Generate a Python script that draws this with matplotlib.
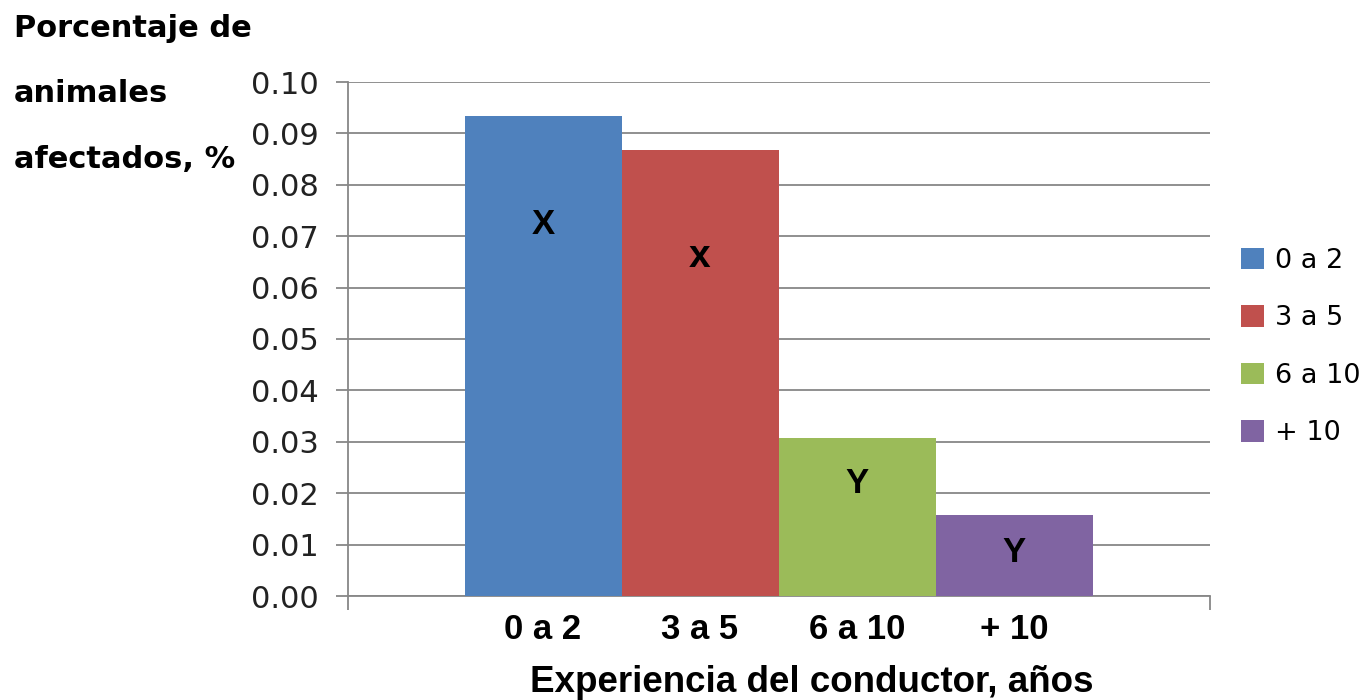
import matplotlib
matplotlib.use("Agg")
import matplotlib.pyplot as plt

# datos
categorias = ["0 a 2", "3 a 5", "6 a 10", "+ 10"]
porcentaje = [0.0934, 0.0868, 0.0307, 0.0157]
letras = ["X", "x", "Y", "Y"]
colores = ["#4F81BD", "#C0504D", "#9BBB59", "#8064A2"]
yticks = [0.00, 0.01, 0.02, 0.03, 0.04, 0.05, 0.06, 0.07, 0.08, 0.09, 0.10]

# posicion vertical de las letras dentro de las barras
letras_y = [0.0722, 0.0660, 0.0218, 0.0084]

fig = plt.figure(figsize=(13.68, 7), dpi=100)
ax = fig.add_axes([348 / 1368, 1 - 596 / 700, (1210 - 348) / 1368, (596 - 82) / 700])

x = list(range(len(categorias)))
barras = ax.bar(x, porcentaje, width=1.0, color=colores, label=categorias, zorder=3)

for xi, letra, ly in zip(x, letras, letras_y):
    ax.text(xi, ly, letra, ha="center", va="center", fontsize=25 if letra.isupper() else 28,
            fontweight="bold", family="Liberation Sans", color="black", zorder=4)

ax.set_xlim(-1.242, 4.248)
ax.set_ylim(0, 0.10)
ax.set_yticks(yticks)
ax.set_yticklabels([f"{v:.2f}" for v in yticks], family="DejaVu Sans", fontsize=22, color="#222222")
ax.yaxis.grid(True, color="#878787", linewidth=1.3, zorder=0)

ax.set_xticks(x)
ax.set_xticklabels(categorias, family="Liberation Sans", fontweight="bold", fontsize=25)
ax.tick_params(axis="x", length=0, pad=12)
ax.set_xticks([-1.242, 4.248], minor=True)
ax.tick_params(axis="x", which="minor", length=10, width=1.3, color="#878787")
ax.tick_params(axis="y", length=9, width=1.3, color="#878787", pad=12)

for lado in ["top", "right"]:
    ax.spines[lado].set_visible(False)
for lado in ["left", "bottom"]:
    ax.spines[lado].set_color("#878787")
    ax.spines[lado].set_linewidth(1.3)

fig.text(14 / 1368, 1 - 14 / 700, "Porcentaje de\nanimales\nafectados, %", ha="left", va="top",
         fontsize=22, fontweight="bold", family="DejaVu Sans", linespacing=2.58)
fig.text(812 / 1368, 1 - 683 / 700, "Experiencia del conductor, años", ha="center", va="center",
         fontsize=26.5, fontweight="bold", family="Liberation Sans")

ax.legend(handles=barras.patches, labels=categorias, loc="center left",
          bbox_to_anchor=(1241 / 1368, 1 - 347 / 700), bbox_transform=fig.transFigure,
          frameon=False, prop={"family": "DejaVu Sans", "size": 19.5},
          handlelength=0.85, handleheight=0.85, handletextpad=0.4,
          labelspacing=1.16, borderpad=0, borderaxespad=0)

fig.savefig("out.png", dpi=100)
